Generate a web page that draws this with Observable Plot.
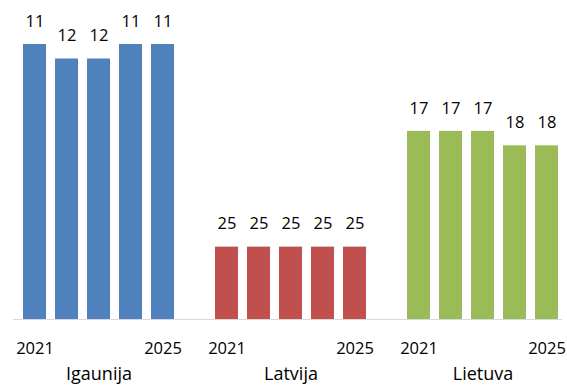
<!DOCTYPE html>
<html>
<head>
<meta charset="utf-8">
<script src="https://cdn.jsdelivr.net/npm/d3@7"></script>
<script src="https://cdn.jsdelivr.net/npm/@observablehq/plot@0.6"></script>
<style>
  html, body { margin: 0; padding: 0; background: #fff; }
  svg { display: block; }
</style>
</head>
<body>
<div id="chart"></div>
<script>
const countries = ["Igaunija", "Latvija", "Lietuva"];
const years = [2021, 2022, 2023, 2024, 2025];
const igaunija = [11, 12, 12, 11, 11];
const latvija = [25, 25, 25, 25, 25];
const lietuva = [17, 17, 17, 18, 18];
const colors = ["#4F81BD", "#C0504D", "#9BBB59"];
const shownYears = [2021, 2025];

const series = [igaunija, latvija, lietuva];
const data = [];
const slots = [];
countries.forEach((c, i) => {
  years.forEach((yr, j) => {
    const key = c + "-" + yr;
    slots.push(key);
    data.push({country: c, year: yr, key, value: series[i][j]});
  });
  if (i < countries.length - 1) slots.push("gap" + i);
});
const yearLabels = data.filter(d => shownYears.includes(d.year));
const groupLabels = countries.map(c => ({country: c, key: c + "-" + years[2]}));

const font = "'Open Sans', sans-serif";
const chart = Plot.plot({
  width: 567,
  height: 385,
  marginTop: 0,
  marginBottom: 66,
  marginLeft: 13,
  marginRight: 5,
  style: {fontFamily: font, background: "#fff"},
  x: {type: "band", domain: slots, range: [18, 563], paddingInner: 0.28, paddingOuter: 0.14, axis: null},
  y: {domain: [30, 11], range: [319, 44], axis: null},
  color: {type: "ordinal", domain: countries, range: colors},
  marks: [
    Plot.ruleY([30], {stroke: "#d9d9d9", strokeWidth: 1}),
    Plot.barY(data, {x: "key", y1: 30, y2: "value", fill: "country"}),
    Plot.text(data, {x: "key", y: "value", text: d => String(d.value), lineAnchor: "middle", dy: -23, fontSize: 16.5, fill: "#000"}),
    Plot.text(yearLabels, {x: "key", frameAnchor: "bottom", text: d => String(d.year), lineAnchor: "middle", dy: 29, fontSize: 16.5, fill: "#000"}),
    Plot.text(groupLabels, {x: "key", frameAnchor: "bottom", text: "country", lineAnchor: "middle", dy: 55, fontSize: 18, fill: "#000"})
  ]
});
document.getElementById("chart").appendChild(chart);
</script>
</body>
</html>
